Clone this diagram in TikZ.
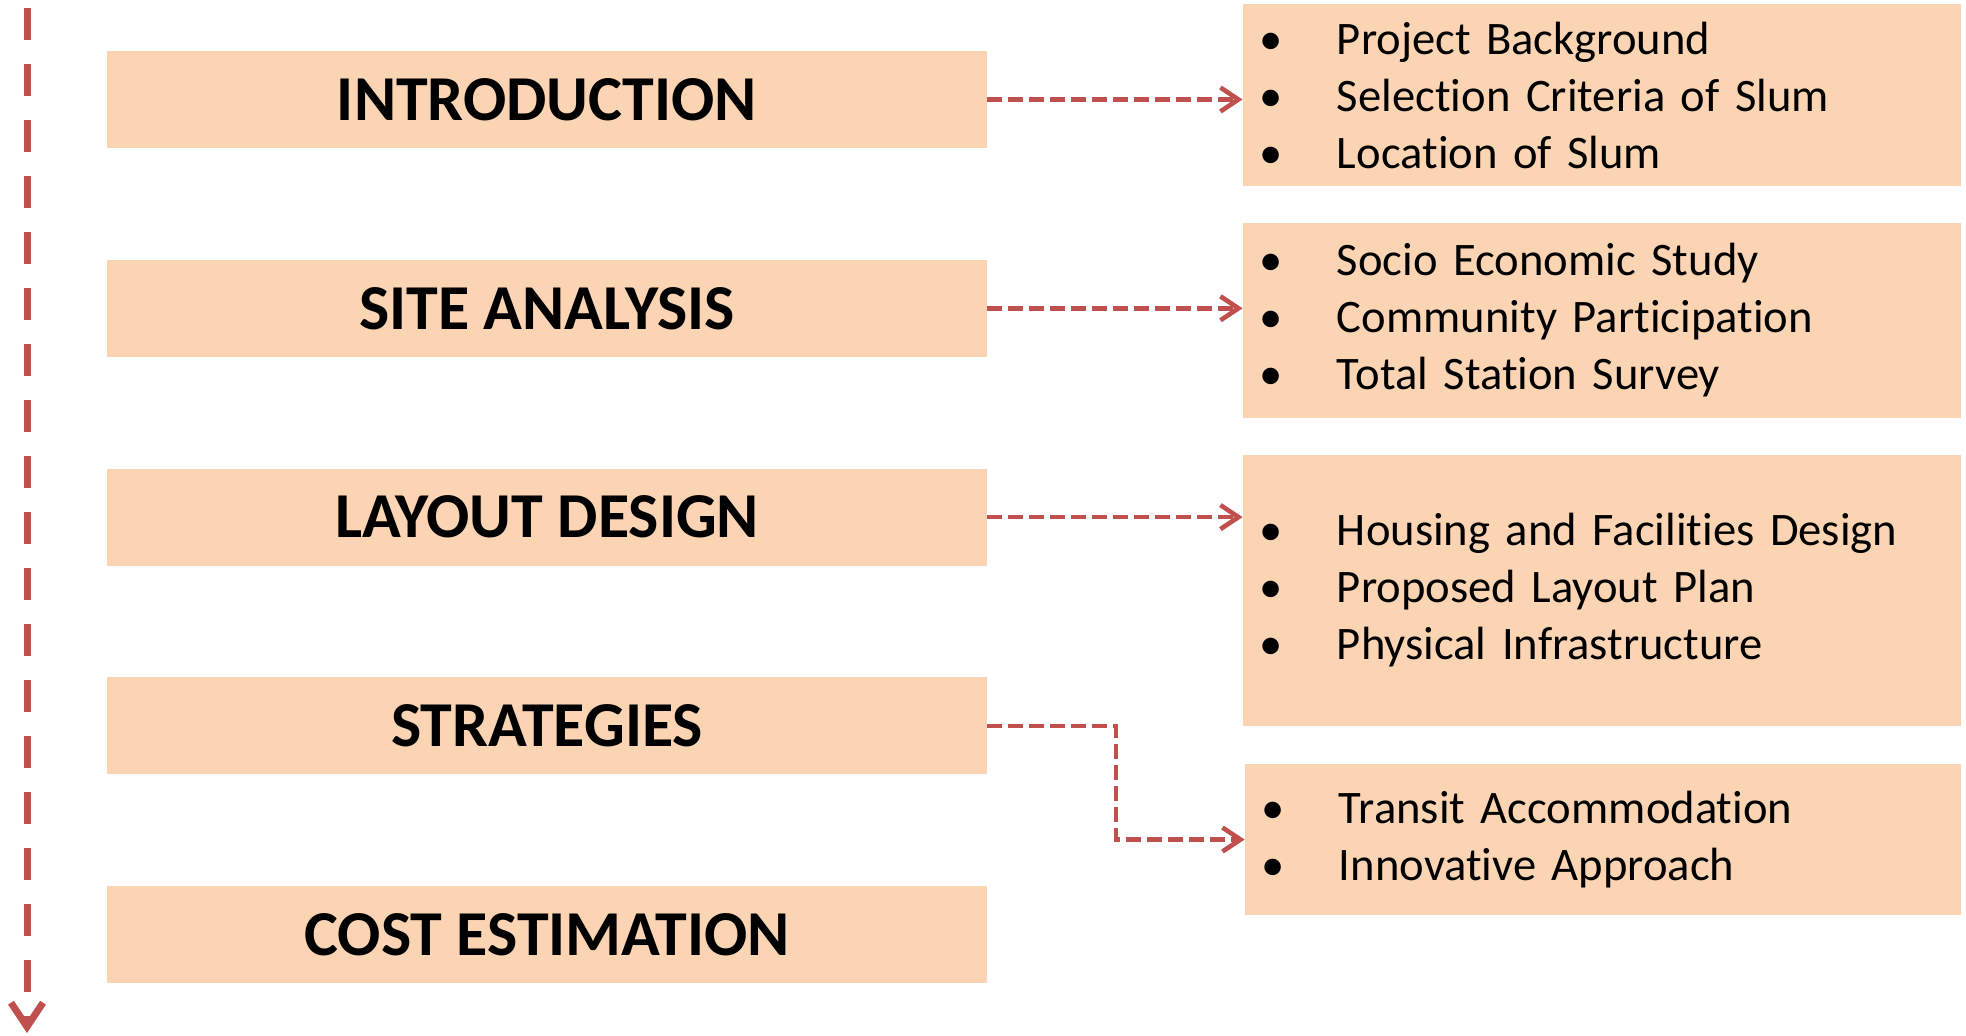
\documentclass[tikz,border=0pt]{standalone}
\usepackage{fontspec}
\setmainfont{Carlito}[Ligatures={NoCommon}]
\usepackage{tikz}
\usetikzlibrary{shapes,positioning,calc}
\usetikzlibrary{arrows.meta}
\definecolor{peach}{HTML}{FBD4B4}
\definecolor{flowred}{HTML}{C0504D}
\tikzstyle{stage} = [rectangle, fill=peach, minimum width=440pt, minimum height=48.5pt, inner sep=0pt, font=\fontsize{32pt}{40pt}\selectfont\bfseries]
\tikzstyle{detail} = [rectangle, fill=peach, minimum width=359pt, inner xsep=8pt, inner ysep=0pt, text width=343pt, align=left, font=\fontsize{23.3pt}{28.5pt}\selectfont]
\tikzstyle{link} = [flowred, line width=2.3pt, dash pattern=on 7.5pt off 3pt, -{Straight Barb[length=9pt,width=12pt]}]
\tikzstyle{flow} = [flowred, line width=3.5pt, dash pattern=on 16pt off 12pt, -{Straight Barb[length=12pt,width=16pt]}]
\newcommand{\itm}{\makebox[39pt][l]{\textbullet}}

\begin{document}
\begin{tikzpicture}[x=0.5pt, y=-0.5pt]
		\useasboundingbox (0,0) rectangle (1966,1035);
		
			% STAGES
			
			\node [stage] (intro) at (547,99.5) {INTRODUCTION};
			\node [stage, below=55.5pt of intro] (site) {SITE ANALYSIS};
			\node [stage, below=55.5pt of site] (layout) {LAYOUT DESIGN};
			\node [stage, below=55.5pt of layout] (strat) {STRATEGIES};
			\node [stage, below=55.5pt of strat] (cost) {COST ESTIMATION};
			
			% DETAILS
			
			\node [detail, minimum height=91pt] (introlist) at (1602,95)
			{\itm Project Background\\ \itm Selection Criteria of Slum\\ \itm Location of Slum};
			\node [detail, minimum height=97.5pt] (sitelist) at (1602,320.5)
			{\itm Socio Economic Study\\ \itm Community Participation\\ \itm Total Station Survey};
			\node [detail, minimum height=135.5pt] (layoutlist) at (1602,590.5)
			{\itm Housing and Facilities Design\\ \itm Proposed Layout Plan\\ \itm Physical Infrastructure};
			\node [detail, minimum width=358pt, text width=342pt, minimum height=75.5pt] (stratlist) at (1603,839.5)
			{\itm Transit Accommodation\\ \itm Innovative Approach};
			
			% ARROWS
			
			\coordinate (flowtop) at (27,8);
			\coordinate (flowend) at (27,1033);
			\draw [flow] (flowtop) -- (flowend);
			
			\draw [link] (intro.east) -- (intro.east -| introlist.west);
			\draw [link] (site.east) -- (site.east -| sitelist.west);
			\draw [link] (layout.east) -- (layout.east -| layoutlist.west);
			\draw [link] (strat.east) -| ($(strat.east)!0.5!(stratlist.west)$) |- (stratlist.west);
			
		\end{tikzpicture}
\end{document}
